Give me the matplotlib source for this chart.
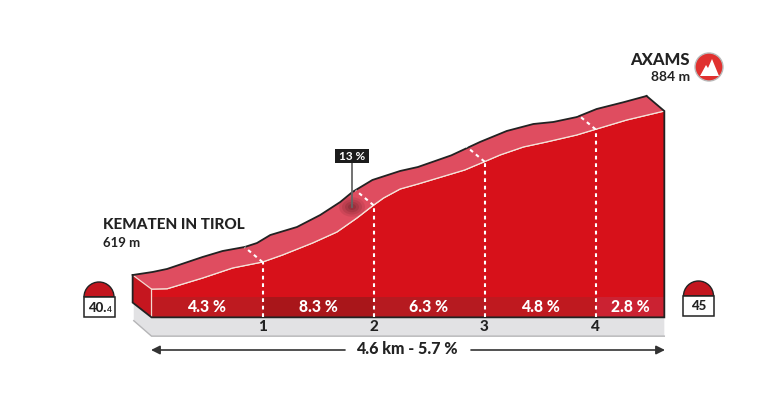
import numpy as np
import matplotlib
matplotlib.use("Agg")
import matplotlib.pyplot as plt
from matplotlib.patches import Polygon, Circle, Rectangle, Wedge, Ellipse

plt.rcParams['font.family'] = ['Lato', 'DejaVu Sans']

# profile: km from the start, altitude in m
front_km = [0.0, 0.14, 0.46, 0.73, 1.0, 1.18, 1.45, 1.67, 1.85, 1.99, 2.09, 2.24, 2.40,
            2.64, 2.82, 2.99, 3.14, 3.35, 3.56, 3.83, 3.98, 4.28, 4.62]
front_m = [619, 619.5, 635.5, 650.4, 659.3, 669.8, 687.6, 704, 724.8, 742.7, 754.6, 768, 775.4,
           787.3, 796.2, 808, 818.6, 830.5, 838, 848.3, 855.8, 870.6, 884]

# back edge of the ribbon
back_km = [-0.17, 0.01, 0.14, 0.46, 0.64, 0.84, 0.95, 1.07, 1.31, 1.52, 1.70, 1.81, 1.99,
           2.24, 2.40, 2.70, 2.96, 3.20, 3.44, 3.62, 3.83, 4.01, 4.25, 4.46]
back_m = [640, 644.5, 649, 666.8, 675.7, 681.7, 687.6, 699.5, 711.4, 729.3, 748.6, 763.5, 781.4,
          794.8, 800.7, 818, 838, 854.3, 864.7, 867.7, 875, 887, 897, 906.4]

km_marks = [1, 2, 3, 4]
seg_edges = [0, 1, 2, 3, 4, 4.62]
seg_labels = ['4.3 %', '8.3 %', '6.3 %', '4.8 %', '2.8 %']
seg_colors = ['#be1a20', '#a9161a', '#b61a20', '#bf191f', '#cb2232']

start_name, start_alt = 'KEMATEN IN TIROL', '619 m'
end_name, end_alt = 'AXAMS', '884 m'
total_label = '4.6 km - 5.7 %'
max_label = '13 %'
km_start_label, km_end_label = '40.4', '45'

RED = '#d7111a'
RIBBON = '#df4d60'
SIDE = '#c5161f'
FLOOR = '#e2e2e4'
INK = '#222222'

base_m = 577
band_m = 607
dx_km, dy_m = -0.16, 22   # depth of the ribbon

fig = plt.figure(figsize=(7.75, 4.08), dpi=100)
ax = fig.add_axes([0, 0, 1, 1])
ax.set_xlim(-1.365, 5.617)
ax.set_ylim(442.1, 1049.2)
ax.axis('off')

# overlay in pixels for the furniture (badges, labels)
px = fig.add_axes([0, 0, 1, 1])
px.set_xlim(0, 775)
px.set_ylim(408, 0)
px.axis('off')
px.patch.set_alpha(0)

x0, x1 = front_km[0], front_km[-1]

# floor
ax.add_patch(Polygon([(x0 + dx_km, base_m + dy_m), (x0, base_m), (x1, base_m), (x1, base_m - 28),
                      (x0, base_m - 28), (x0 + dx_km, base_m - 5)],
                     closed=True, fc=FLOOR, ec='none', zorder=1))
ax.plot([x0 + dx_km, x0, x1], [base_m - 5, base_m - 28, base_m - 28], color='#b5b5b7', lw=1, zorder=1.5)

# ribbon top
ax.fill(front_km + back_km[::-1], front_m + back_m[::-1], color=RIBBON, lw=0, zorder=2)

# side wall
ax.add_patch(Polygon([(back_km[0], back_m[0]), (x0, front_m[0]), (x0, base_m),
                      (back_km[0], base_m + dy_m)], closed=True, fc=SIDE, ec='none', zorder=2))

# front face
ax.fill_between(front_km, base_m, front_m, color=RED, lw=0, zorder=3)
for i, lab in enumerate(seg_labels):
    ax.bar(seg_edges[i], band_m - base_m, bottom=base_m, width=seg_edges[i + 1] - seg_edges[i],
           align='edge', color=seg_colors[i], lw=0, zorder=4)
    ax.text((seg_edges[i] + seg_edges[i + 1]) / 2, (band_m + base_m) / 2, lab, color='white',
            fontsize=11.3, fontweight='black', ha='center', va='center', zorder=7)

# edges
ax.plot(front_km, front_m, color='#f6e3d8', lw=0.9, zorder=5)
ax.plot([back_km[0], x0, x0], [back_m[0], front_m[0], base_m], color='#f3d9d0', lw=0.9, zorder=5)
ax.plot(back_km, back_m, color=INK, lw=1.3, zorder=5)
ax.plot([back_km[0], back_km[0], x0, x1, x1, back_km[-1]],
        [back_m[0], base_m + dy_m, base_m, base_m, front_m[-1], back_m[-1]],
        color=INK, lw=1.3, zorder=6, solid_joinstyle='miter')

# km marks
for k in km_marks:
    top = np.interp(k, front_km, front_m)
    ax.plot([k, k], [base_m, top], color='white', lw=1.5, ls=(0, (1.8, 1.8)), zorder=6)
    ax.plot([k, k + dx_km], [top, top + dy_m], color='white', lw=1.5, ls=(0, (1.8, 1.8)), zorder=6)
    ax.text(k, base_m - 14, str(k), color=INK, fontsize=11, fontweight='black',
            ha='center', va='center', zorder=7)

# steepest point
for w, a in zip([26, 20, 14, 8], [0.12, 0.15, 0.18, 0.22]):
    px.add_patch(Ellipse((352, 207), w, w * 0.75, fc='#5a1a20', ec='none', alpha=a, zorder=2))
px.plot([352, 352], [163, 207], color='#666666', lw=1.3, zorder=3)
px.add_patch(Rectangle((335, 149), 34, 14, fc='#1c1c1c', ec='none', zorder=3))
px.text(352, 156, max_label, color='white', fontsize=8.5, fontweight='bold', ha='center', va='center', zorder=4)

# distance arrow
px.annotate('', xy=(151, 350), xytext=(345, 350),
            arrowprops=dict(arrowstyle='-|>', color='#333333', lw=1.2, mutation_scale=13, shrinkA=0, shrinkB=0))
px.annotate('', xy=(665, 350), xytext=(471, 350),
            arrowprops=dict(arrowstyle='-|>', color='#333333', lw=1.2, mutation_scale=13, shrinkA=0, shrinkB=0))
px.text(407, 349, total_label, color=INK, fontsize=11.5, fontweight='black', ha='center', va='center')

# place names
px.text(103, 225, start_name, color=INK, fontsize=11, fontweight='black', ha='left', va='center')
px.text(103, 243, start_alt, color=INK, fontsize=9.5, fontweight='bold', ha='left', va='center')
px.text(690, 60, end_name, color=INK, fontsize=12, fontweight='black', ha='right', va='center')
px.text(690, 77, end_alt, color=INK, fontsize=10, fontweight='bold', ha='right', va='center')

# summit icon
px.add_patch(Circle((709, 67), 14, fc='#e0312f', ec='#b9b9b9', lw=1))
px.add_patch(Polygon([(700, 76), (706, 65), (708, 68), (712, 59), (719, 76)], closed=True, fc='white', ec='none'))


def km_badge(cx, cy, label, small=None):
    # red dome with a white plate under it
    px.add_patch(Wedge((cx, cy), 15, 180, 360, fc='#c3161f', ec=INK, lw=1))
    px.add_patch(Rectangle((cx - 15.5, cy), 31, 20, fc='white', ec=INK, lw=1.1, zorder=3))
    if small:
        px.text(cx - 2, cy + 10.5, label, color=INK, fontsize=9.5, fontweight='black', ha='center', va='center', zorder=4)
        px.text(cx + 10, cy + 12, small, color=INK, fontsize=6, fontweight='bold', ha='center', va='center', zorder=4)
    else:
        px.text(cx, cy + 10, label, color=INK, fontsize=9.5, fontweight='black', ha='center', va='center', zorder=4)


whole, dec = km_start_label.split('.')
km_badge(99, 297, whole + '.', dec)
km_badge(698.5, 296, km_end_label)

fig.savefig('out.png', dpi=100)
